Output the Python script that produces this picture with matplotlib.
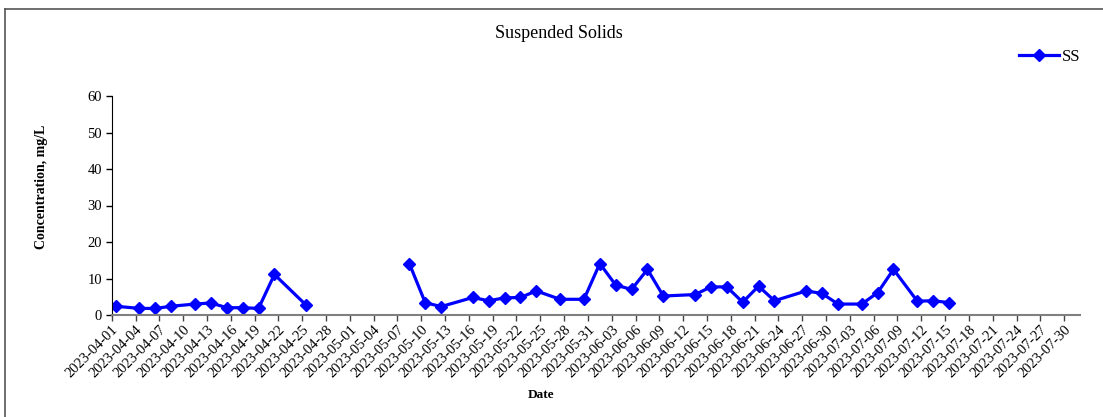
import matplotlib
matplotlib.use("Agg")
import matplotlib.pyplot as plt
import pandas as pd
import numpy as np

dates = ["2023-04-01", "2023-04-04", "2023-04-06", "2023-04-08", "2023-04-11",
         "2023-04-13", "2023-04-15", "2023-04-17", "2023-04-19", "2023-04-21",
         "2023-04-25", "2023-05-01", "2023-05-08", "2023-05-10", "2023-05-12",
         "2023-05-16", "2023-05-18", "2023-05-20", "2023-05-22", "2023-05-24",
         "2023-05-27", "2023-05-30", "2023-06-01", "2023-06-03", "2023-06-05",
         "2023-06-07", "2023-06-09", "2023-06-13", "2023-06-15", "2023-06-17",
         "2023-06-19", "2023-06-21", "2023-06-23", "2023-06-27", "2023-06-29",
         "2023-07-01", "2023-07-04", "2023-07-06", "2023-07-08", "2023-07-11",
         "2023-07-13", "2023-07-15"]
ss = [2.4, 1.8, 1.8, 2.4, 3.0,
      3.3, 2.0, 2.0, 1.8, 11.1,
      2.7, None, 14.1, 3.4, 2.3,
      4.8, 3.9, 4.7, 4.8, 6.6,
      4.3, 4.3, 14.1, 8.2, 7.0,
      12.5, 5.2, 5.6, 7.7, 7.7,
      3.5, 7.9, 3.9, 6.6, 5.9,
      3.0, 3.0, 6.1, 12.5, 3.8,
      3.9, 3.4]

axis_start = "2023-04-01"
axis_end = "2023-08-01"
tick_dates = pd.date_range("2023-04-01", "2023-07-30", freq="3D")
yticks = [0, 10, 20, 30, 40, 50, 60]

plt.rcParams['font.family'] = ['Liberation Serif', 'DejaVu Serif']

W, H = 1103, 417
fig = plt.figure(figsize=(W / 100, H / 100), dpi=100)
ax = fig.add_axes([111.7 / W, 1 - 315 / H, (1080 - 111.7) / W, (315 - 96) / H])

x = pd.to_datetime(dates) + pd.Timedelta(hours=12)
y = np.array([np.nan if v is None else v for v in ss], dtype=float)
ax.plot(x, y, color='#0000FF', lw=2.3, marker='D', markersize=6.5, label='SS')

ax.set_xlim(pd.Timestamp(axis_start), pd.Timestamp(axis_end))
ax.set_ylim(0, 60)
ax.set_yticks(yticks)
ax.set_xticks(tick_dates)
ax.set_xticklabels([d.strftime("%Y-%m-%d") for d in tick_dates], rotation=45,
                   ha='right', va='top', rotation_mode='anchor', fontsize=10.5)
ax.tick_params(axis='y', labelsize=10.5, length=4, width=1, direction='out', pad=3)
ax.tick_params(axis='x', length=4, width=1, direction='out', pad=2, color='#444444')

for s in ['top', 'right']:
    ax.spines[s].set_visible(False)
ax.spines['left'].set_color('black')
ax.spines['bottom'].set_color('#808080')
ax.spines['bottom'].set_linewidth(1.5)

fig.text(559 / W, 1 - 34 / H, "Suspended Solids", fontsize=13, ha='center', va='center')

fig.text(42 / W, 1 - 187 / H, "Concentration, mg/L", rotation=90, fontsize=10,
         fontweight='bold', ha='center', va='center')
fig.text(541 / W, 1 - 395 / H, "Date", fontsize=9.5, fontweight='bold',
         ha='center', va='center')

leg = ax.legend(loc='center left', bbox_to_anchor=(1019 / W, 1 - 57 / H),
                bbox_transform=fig.transFigure, frameon=False, fontsize=12,
                handlelength=2.4, handletextpad=0.2, borderpad=0, borderaxespad=0)

# outer chart frame
fig.add_artist(plt.Line2D([5 / W, 5 / W], [0, 1 - 9 / H], transform=fig.transFigure,
                          color='#555555', lw=1.2))
fig.add_artist(plt.Line2D([5 / W, 1.0], [1 - 9 / H, 1 - 9 / H], transform=fig.transFigure,
                          color='#555555', lw=1.2))

fig.savefig("out.png", dpi=100)
